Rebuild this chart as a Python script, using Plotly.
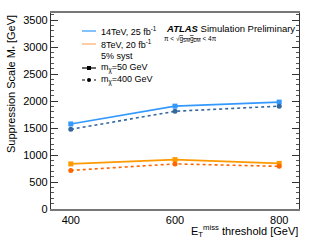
import plotly.graph_objects as go

met_threshold = [400, 600, 800]
m14_m50 = [1575, 1905, 1980]
m14_m400 = [1475, 1810, 1905]
m8_m50 = [835, 915, 845]
m8_m400 = [715, 835, 790]

FONT = "Liberation Sans, Arial, sans-serif"

W, H = 316, 250
L, R, T, B = 51, 17, 13, 41
PW, PH = W - L - R, H - T - B


def px(x):
    return (x - L) / PW


def py(y):
    return (H - B - y) / PH


fig = go.Figure()
series = [
    (m14_m50, "#3399ff", "solid", "square"),
    (m14_m400, "#33679e", "dot", "circle"),
    (m8_m50, "#ff9900", "solid", "square"),
    (m8_m400, "#ff6600", "dot", "circle"),
]
for vals, col, dash, sym in series:
    fig.add_trace(go.Scatter(
        x=met_threshold, y=vals, mode="lines+markers",
        line=dict(color=col, width=1.6, dash=dash),
        marker=dict(color=col, size=5, symbol=sym),
        showlegend=False,
    ))

shapes = []
annotations = []

# legend (drawn in paper coordinates)
leg = [
    (31, "#3399ff", "solid", None, "14TeV, 25 fb<sup>-1</sup>"),
    (44, "#ffaa66", "solid", None, "8TeV, 20 fb<sup>-1</sup>"),
    (56, None, None, None, "5% syst"),
    (68, "black", "solid", "square", "m<sub>χ</sub>=50 GeV"),
    (80, "black", "dot", "circle", "m<sub>χ</sub>=400 GeV"),
]
for yy, col, dash, sym, txt in leg:
    if col is not None:
        shapes.append(dict(type="line", xref="paper", yref="paper",
                           x0=px(82), x1=px(96), y0=py(yy), y1=py(yy),
                           line=dict(color=col, width=1.2, dash=dash)))
    if sym == "square":
        shapes.append(dict(type="rect", xref="paper", yref="paper",
                           x0=px(87), x1=px(91), y0=py(yy - 2), y1=py(yy + 2),
                           fillcolor="black", line=dict(width=0)))
    elif sym == "circle":
        shapes.append(dict(type="circle", xref="paper", yref="paper",
                           x0=px(87), x1=px(91), y0=py(yy - 2), y1=py(yy + 2),
                           fillcolor="black", line=dict(width=0)))
    annotations.append(dict(xref="paper", yref="paper", x=px(99), y=py(yy),
                            xanchor="left", yanchor="middle", showarrow=False,
                            text=txt, font=dict(family=FONT, size=9, color="black")))

annotations.append(dict(xref="paper", yref="paper", x=px(164), y=py(28),
                        xanchor="left", yanchor="middle", showarrow=False,
                        text="<b><i>ATLAS</i></b> Simulation Preliminary",
                        font=dict(family=FONT, size=9.5, color="black")))
annotations.append(dict(xref="paper", yref="paper", x=px(162), y=py(39),
                        xanchor="left", yanchor="middle", showarrow=False,
                        text="π < √<span style='text-decoration:overline'>g<sub>SM</sub>g<sub>DM</sub></span> < 4π",
                        font=dict(family=FONT, size=6.5, color="black")))

# axis titles
annotations.append(dict(xref="paper", yref="paper", x=px(12), y=1.0,
                        xanchor="center", yanchor="top", textangle=-90, showarrow=False,
                        text="Suppression Scale M<sub>*</sub> [GeV]",
                        font=dict(family=FONT, size=11, color="black")))
annotations.append(dict(xref="paper", yref="paper", x=px(300), y=py(231),
                        xanchor="right", yanchor="middle", showarrow=False,
                        text="E<sub>T</sub><sup>miss</sup> threshold [GeV]",
                        font=dict(family=FONT, size=11, color="black")))

fig.update_layout(
    width=W, height=H,
    margin=dict(l=L, r=R, t=T, b=B, autoexpand=False),
    paper_bgcolor="white", plot_bgcolor="white",
    font=dict(family=FONT, size=11, color="black"),
    shapes=shapes, annotations=annotations,
    xaxis=dict(range=[362, 838], tickvals=[400, 600, 800],
               showgrid=False, zeroline=False, showline=True, mirror=True,
               linecolor="#777", linewidth=1.5, ticks="",
               tickfont=dict(size=11)),
    yaxis=dict(range=[0, 3630], dtick=500, showgrid=False, zeroline=False,
               showline=True, mirror="ticks", linecolor="#333", linewidth=1.2,
               ticks="inside", ticklen=7, tickcolor="#333",
               minor=dict(dtick=100, ticks="inside", ticklen=3, tickcolor="#555"),
               tickfont=dict(size=11)),
)

fig.write_html("out.html", config={"displayModeBar": False},
               post_script="document.body.style.margin='0';document.body.style.overflow='hidden';")
